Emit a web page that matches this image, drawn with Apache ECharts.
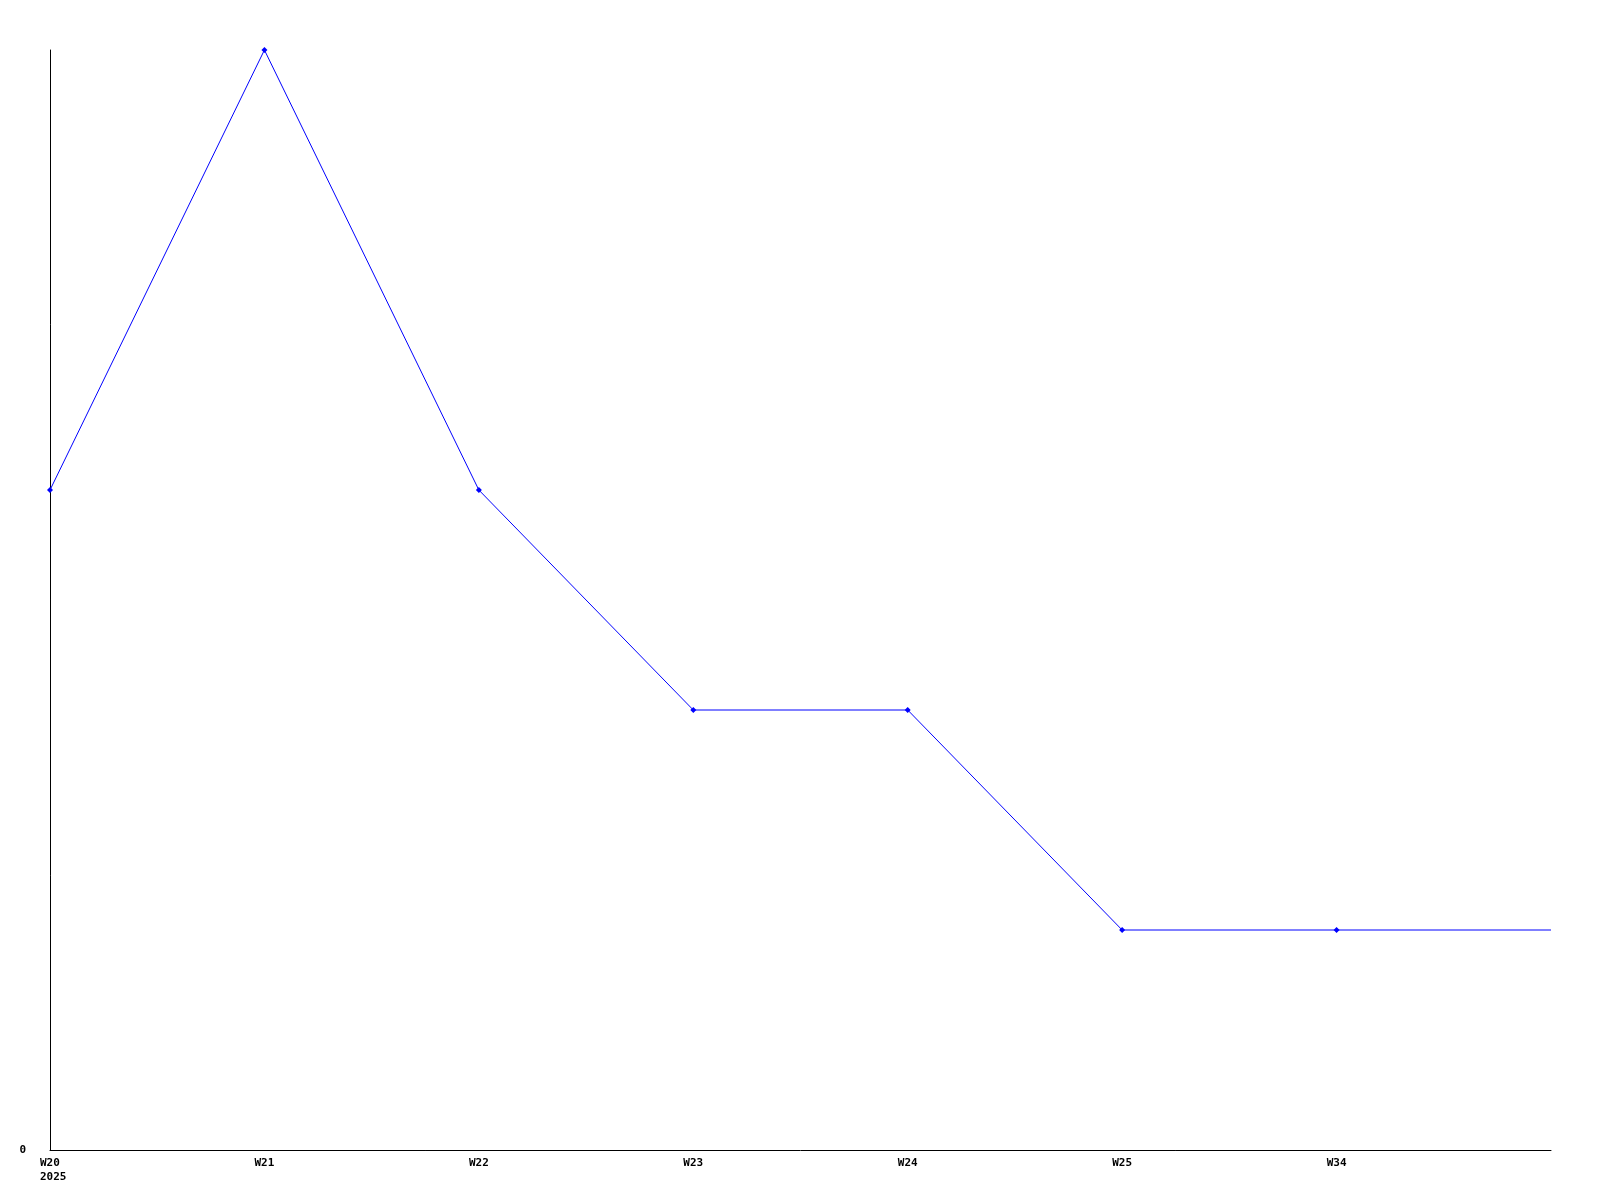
<!DOCTYPE html>
<html>
<head>
<meta charset="utf-8">
<script src="https://cdn.jsdelivr.net/npm/echarts@6/dist/echarts.min.js"></script>
<style>html,body{margin:0;padding:0;background:#fff;}#c{width:1600px;height:1200px;}</style>
</head>
<body>
<div id="c"></div>
<script>
const categories = ['W20\n2025', 'W21', 'W22', 'W23', 'W24', 'W25', 'W34', ''];
const values = [3, 5, 3, 2, 2, 1, 1, 1];
const yTicks = [0];

const chart = echarts.init(document.getElementById('c'), null, {renderer: 'canvas'});
const font = {fontFamily: 'DejaVu Sans Mono', fontWeight: 'bold', fontSize: 11, color: '#000'};
chart.setOption({
  animation: false,
  backgroundColor: '#fff',
  grid: {left: 50, right: 49, top: 50, bottom: 50, containLabel: false},
  xAxis: {
    type: 'category',
    data: categories.map((c, i) => i === 0
      ? {value: c, textStyle: {align: 'left', padding: [0, 0, 0, -10]}}
      : c),
    boundaryGap: false,
    axisLine: {show: true, lineStyle: {color: '#000', width: 1}},
    axisTick: {show: false},
    splitLine: {show: false},
    axisLabel: Object.assign({margin: 6, interval: 0, lineHeight: 14, align: 'center'}, font)
  },
  yAxis: {
    type: 'value',
    min: 0,
    max: 5,
    interval: 5,
    axisLine: {show: true, lineStyle: {color: '#000', width: 1}},
    axisTick: {show: false},
    splitLine: {show: false},
    axisLabel: Object.assign({margin: 24, formatter: v => yTicks.includes(v) ? String(v) : ''}, font)
  },
  series: [{
    type: 'line',
    data: values.map((v, i) => i === values.length - 1 ? {value: v, symbol: 'none'} : v),
    symbol: 'diamond',
    symbolSize: 6,
    showAllSymbol: true,
    lineStyle: {color: '#0000ff', width: 1},
    itemStyle: {color: '#0000ff'},
    emphasis: {disabled: true}
  }]
});
</script>
</body>
</html>
